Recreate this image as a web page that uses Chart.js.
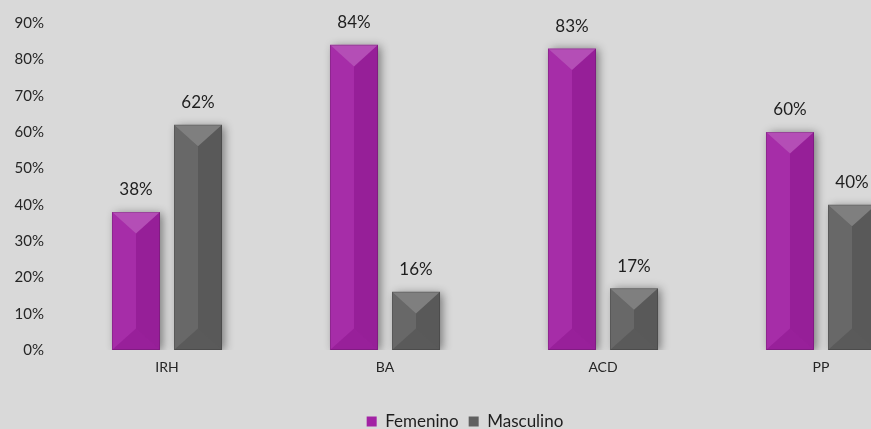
<!DOCTYPE html>
<html>
<head>
<meta charset="utf-8">
<script src="https://cdn.jsdelivr.net/npm/chart.js@4"></script>
<style>
    body { margin: 0; background: #d9d9d9; }
    #frame { width: 871px; height: 429px; overflow: hidden; }
    #wrap { width: 932px; height: 429px; }
</style>
</head>
<body>
<div id="frame"><div id="wrap"><canvas id="genderChart"></canvas></div></div>
<script>
// Chart data
const categories = ['IRH', 'BA', 'ACD', 'PP'];
const femenino = [38, 84, 83, 60];
const masculino = [62, 16, 17, 40];
const yTicks = [0, 10, 20, 30, 40, 50, 60, 70, 80, 90];

const MAGENTA = '#a222a4';
const GRAY = '#606060';
const FONT = 'Lato, "Open Sans", sans-serif';

// Grey background
const bgPlugin = {
    id: 'bg',
    beforeDraw(chart) {
        const ctx = chart.ctx;
        ctx.save();
        ctx.fillStyle = '#d9d9d9';
        ctx.fillRect(0, 0, chart.width, chart.height);
        ctx.restore();
    }
};

// Soft shadow under bars
const shadowPlugin = {
    id: 'barShadow',
    beforeDatasetsDraw(chart) {
        const ctx = chart.ctx;
        ctx.save();
        ctx.shadowColor = 'rgba(0,0,0,0.45)';
        ctx.shadowBlur = 9;
        ctx.shadowOffsetX = 3;
        ctx.shadowOffsetY = 1;
    },
    afterDatasetsDraw(chart) {
        chart.ctx.restore();
    }
};

// Bevel look + value labels
const bevelPlugin = {
    id: 'bevel',
    afterDatasetsDraw(chart) {
        const ctx = chart.ctx;
        chart.data.datasets.forEach((ds, i) => {
            const meta = chart.getDatasetMeta(i);
            meta.data.forEach((bar, j) => {
                const p = bar.getProps(['x', 'y', 'base', 'width'], true);
                const l = p.x - p.width / 2, r = p.x + p.width / 2;
                const t = p.y, b = p.base;
                const bev = Math.min(p.width * 0.45, (b - t) / 2);
                ctx.save();
                ctx.beginPath();
                ctx.rect(l, t, p.width, b - t);
                ctx.clip();
                // right half darker
                ctx.fillStyle = 'rgba(0,0,0,0.07)';
                ctx.beginPath();
                ctx.moveTo(p.x, t + bev); ctx.lineTo(r, t); ctx.lineTo(r, b);
                ctx.lineTo(p.x, b - bev); ctx.closePath();
                ctx.fill();
                // left half lighter
                ctx.fillStyle = 'rgba(255,255,255,0.05)';
                ctx.beginPath();
                ctx.moveTo(l, t); ctx.lineTo(p.x, t + bev); ctx.lineTo(p.x, b - bev);
                ctx.lineTo(l, b); ctx.closePath();
                ctx.fill();
                // top face
                ctx.fillStyle = 'rgba(255,255,255,0.2)';
                ctx.beginPath();
                ctx.moveTo(l, t); ctx.lineTo(r, t); ctx.lineTo(p.x, t + bev); ctx.closePath();
                ctx.fill();
                // bottom face
                ctx.fillStyle = 'rgba(0,0,0,0.06)';
                ctx.beginPath();
                ctx.moveTo(l, b); ctx.lineTo(r, b); ctx.lineTo(p.x, b - bev); ctx.closePath();
                ctx.fill();
                // edges
                ctx.strokeStyle = 'rgba(0,0,0,0.15)';
                ctx.lineWidth = 1;
                ctx.strokeRect(l + 0.5, t + 0.5, p.width - 1, b - t - 1);
                ctx.restore();

                // value label
                ctx.save();
                ctx.fillStyle = '#1e1e1e';
                ctx.font = '17px ' + FONT;
                ctx.textAlign = 'center';
                ctx.textBaseline = 'middle';
                ctx.fillText(ds.data[j] + '%', p.x, t - 22);
                ctx.restore();
            });
        });
    }
};

document.addEventListener('DOMContentLoaded', function() {
    const ctx = document.getElementById('genderChart').getContext('2d');

    new Chart(ctx, {
        type: 'bar',
        data: {
            labels: categories,
            datasets: [
                {
                    label: 'Femenino',
                    data: femenino,
                    backgroundColor: MAGENTA,
                    borderWidth: 0,
                    barPercentage: 0.774,
                    categoryPercentage: 0.569
                },
                {
                    label: 'Masculino',
                    data: masculino,
                    backgroundColor: GRAY,
                    borderWidth: 0,
                    barPercentage: 0.774,
                    categoryPercentage: 0.569
                }
            ]
        },
        options: {
            responsive: true,
            maintainAspectRatio: false,
            animation: false,
            layout: {
                padding: { top: 17, right: 2, bottom: -11, left: 0 }
            },
            scales: {
                x: {
                    grid: { display: false, drawTicks: false },
                    border: { display: false },
                    ticks: {
                        color: '#262626',
                        font: { family: FONT, size: 14 },
                        padding: 9
                    },
                    afterFit(scale) { scale.height = 53; }
                },
                y: {
                    min: 0,
                    max: 90,
                    grid: { display: false, drawTicks: false },
                    border: { display: false },
                    afterBuildTicks(scale) {
                        scale.ticks = yTicks.map(v => ({ value: v }));
                    },
                    ticks: {
                        color: '#262626',
                        font: { family: FONT, size: 15 },
                        padding: 14,
                        callback: function(value) { return value + '%'; }
                    },
                    afterFit(scale) { scale.width = 58; }
                }
            },
            plugins: {
                legend: {
                    position: 'bottom',
                    labels: {
                        color: '#1e1e1e',
                        font: { family: FONT, size: 17 },
                        boxWidth: 10,
                        boxHeight: 10,
                        padding: 10
                    }
                },
                tooltip: { enabled: false }
            }
        },
        plugins: [bgPlugin, shadowPlugin, bevelPlugin]
    });
});
</script>
</body>
</html>
